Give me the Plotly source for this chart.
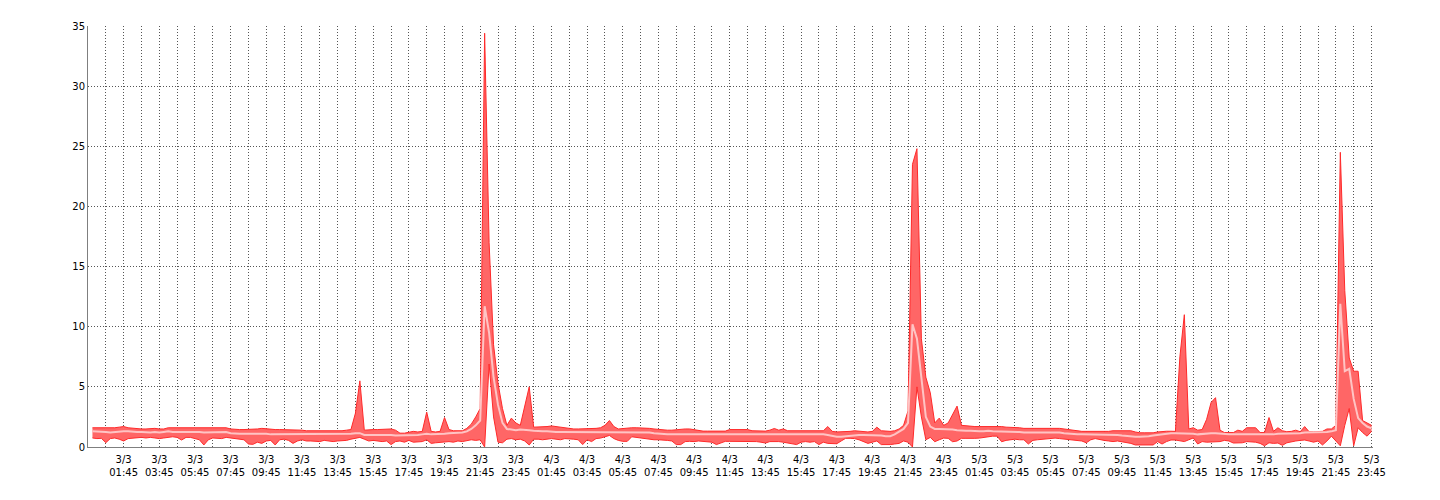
import pandas as pd
import plotly.graph_objects as go

# 15-minute samples, 3/3 00:00 .. 5/3 23:45 (values per hour listed as 4 quarter-hour values)
max_day1 = [
    1.60, 1.60, 1.60, 1.55,  1.55, 1.60, 1.65, 1.70,  1.60, 1.55, 1.55, 1.50,  1.50, 1.55, 1.55, 1.50,
    1.50, 1.60, 1.60, 1.55,  1.55, 1.55, 1.60, 1.60,  1.60, 1.60, 1.55, 1.55,  1.55, 1.55, 1.60, 1.50,
    1.45, 1.45, 1.45, 1.45,  1.45, 1.50, 1.55, 1.50,  1.45, 1.45, 1.45, 1.45,  1.40, 1.40, 1.40, 1.40,
    1.35, 1.35, 1.35, 1.30,  1.30, 1.30, 1.30, 1.30,  1.35, 1.40, 1.45, 2.80,  5.50, 1.40, 1.45, 1.45,
    1.45, 1.45, 1.50, 1.50,  1.40, 1.15, 1.15, 1.20,  1.30, 1.25, 1.30, 2.90,  1.30, 1.25, 1.30, 2.45,
    1.45, 1.35, 1.35, 1.35,  1.55, 1.90, 2.50, 3.20,  34.4, 17.0, 8.50, 5.30,  3.20, 1.80, 2.40, 2.00,
]
max_day2 = [
    1.80, 3.30, 5.00, 1.65,  1.65, 1.70, 1.70, 1.75,  1.70, 1.65, 1.55, 1.50,  1.50, 1.50, 1.50, 1.50,
    1.55, 1.55, 1.60, 1.80,  2.20, 1.70, 1.50, 1.55,  1.60, 1.60, 1.60, 1.60,  1.60, 1.55, 1.50, 1.45,
    1.40, 1.40, 1.40, 1.45,  1.50, 1.50, 1.50, 1.45,  1.35, 1.32, 1.32, 1.32,  1.32, 1.32, 1.32, 1.45,
    1.45, 1.45, 1.45, 1.45,  1.35, 1.32, 1.32, 1.32,  1.40, 1.54, 1.40, 1.50,  1.35, 1.35, 1.32, 1.32,
    1.32, 1.32, 1.32, 1.35,  1.35, 1.70, 1.30, 1.25,  1.25, 1.25, 1.30, 1.35,  1.30, 1.25, 1.25, 1.30,
    1.65, 1.35, 1.30, 1.30,  1.35, 1.50, 1.80, 3.00,  23.5, 24.8, 9.00, 5.80,  4.50, 2.00, 2.40, 1.80,
]
max_day3 = [
    2.00, 2.70, 3.40, 1.80,  1.75, 1.75, 1.70, 1.70,  1.70, 1.75, 1.75, 1.70,  1.70, 1.65, 1.65, 1.60,
    1.60, 1.55, 1.55, 1.60,  1.60, 1.60, 1.55, 1.55,  1.55, 1.55, 1.50, 1.45,  1.40, 1.30, 1.30, 1.30,
    1.30, 1.30, 1.27, 1.27,  1.30, 1.35, 1.35, 1.38,  1.40, 1.35, 1.25, 1.18,  1.18, 1.18, 1.18, 1.25,
    1.31, 1.31, 1.31, 1.30,  7.50, 11.0, 1.50, 1.60,  1.40, 1.45, 2.30, 3.70,  4.10, 1.40, 1.20, 1.20,
    1.20, 1.40, 1.30, 1.60,  1.60, 1.60, 1.20, 1.20,  2.45, 1.30, 1.60, 1.35,  1.27, 1.30, 1.40, 1.27,
    1.70, 1.27, 1.27, 1.30,  1.30, 1.50, 1.50, 1.80,  24.5, 13.0, 7.40, 6.30,  6.30, 2.20, 2.00, 1.80,
]

mean_day1 = [
    1.30, 1.30, 1.30, 1.25,  1.20, 1.25, 1.30, 1.30,  1.30, 1.25, 1.25, 1.25,  1.20, 1.20, 1.25, 1.20,
    1.25, 1.30, 1.25, 1.25,  1.25, 1.25, 1.30, 1.30,  1.25, 1.20, 1.20, 1.20,  1.20, 1.20, 1.25, 1.15,
    1.10, 1.10, 1.10, 1.10,  1.10, 1.15, 1.15, 1.10,  1.05, 1.05, 1.05, 1.10,  1.05, 1.05, 1.05, 1.05,
    1.05, 1.05, 1.05, 1.05,  1.05, 1.05, 1.10, 1.10,  1.10, 1.10, 1.10, 1.15,  1.15, 1.00, 1.00, 1.05,
    1.00, 1.00, 1.00, 1.00,  0.95, 0.95, 0.95, 0.95,  1.00, 1.00, 1.05, 1.10,  1.05, 1.05, 1.10, 1.10,
    1.15, 1.15, 1.20, 1.20,  1.30, 1.50, 1.80, 2.20,  11.7, 9.50, 5.80, 3.50,  2.00, 1.50, 1.45, 1.40,
]
mean_day2 = [
    1.45, 1.45, 1.40, 1.35,  1.30, 1.30, 1.30, 1.25,  1.25, 1.25, 1.25, 1.25,  1.25, 1.25, 1.25, 1.25,
    1.20, 1.20, 1.22, 1.25,  1.25, 1.25, 1.25, 1.25,  1.25, 1.25, 1.25, 1.25,  1.25, 1.20, 1.15, 1.10,
    1.05, 1.05, 1.05, 1.05,  1.05, 1.05, 1.05, 1.05,  1.00, 1.00, 1.00, 1.00,  1.00, 1.00, 1.00, 1.00,
    1.00, 1.00, 1.00, 1.00,  1.00, 1.00, 1.00, 1.00,  1.05, 1.07, 1.07, 1.07,  1.07, 1.07, 1.07, 1.07,
    1.07, 1.07, 1.07, 1.07,  1.05, 1.00, 0.90, 0.85,  0.85, 0.90, 0.95, 1.00,  1.00, 1.00, 1.00, 1.00,
    1.00, 0.95, 0.90, 0.90,  1.05, 1.30, 1.50, 2.00,  10.2, 9.00, 5.50, 2.50,  1.70, 1.50, 1.50, 1.50,
]
mean_day3 = [
    1.50, 1.45, 1.40, 1.35,  1.35, 1.35, 1.30, 1.30,  1.30, 1.35, 1.30, 1.30,  1.30, 1.25, 1.25, 1.25,
    1.25, 1.20, 1.20, 1.25,  1.25, 1.25, 1.20, 1.20,  1.20, 1.20, 1.15, 1.10,  1.10, 1.05, 1.05, 1.05,
    1.00, 1.00, 1.00, 1.00,  1.00, 1.00, 1.00, 0.95,  0.90, 0.85, 0.85, 0.85,  0.85, 0.90, 0.95, 1.00,
    1.10, 1.10, 1.15, 1.15,  1.15, 1.15, 1.10, 1.10,  1.05, 1.10, 1.10, 1.15,  1.15, 1.10, 1.05, 1.05,
    1.05, 1.05, 1.05, 1.05,  1.05, 1.05, 1.00, 1.00,  1.05, 1.05, 1.10, 1.10,  1.10, 1.10, 1.10, 1.15,
    1.20, 1.20, 1.25, 1.25,  1.25, 1.25, 1.30, 1.40,  11.9, 6.30, 6.50, 4.00,  2.40, 2.00, 1.70, 1.55,
]

min_day1 = [
    0.75, 0.70, 0.72, 0.36,  0.70, 0.75, 0.65, 0.50,  0.70, 0.75, 0.80, 0.80,  0.75, 0.80, 0.75, 0.70,
    0.75, 0.80, 0.85, 0.80,  0.58, 0.80, 0.80, 0.70,  0.60, 0.17, 0.60, 0.75,  0.75, 0.70, 0.80, 0.75,
    0.70, 0.60, 0.60, 0.25,  0.22, 0.40, 0.30, 0.50,  0.55, 0.17, 0.60, 0.65,  0.55, 0.30, 0.50, 0.60,
    0.50, 0.50, 0.45, 0.45,  0.55, 0.50, 0.45, 0.50,  0.50, 0.55, 0.65, 0.75,  0.80, 0.65, 0.50, 0.55,
    0.50, 0.45, 0.50, 0.20,  0.45, 0.50, 0.40, 0.55,  0.40, 0.45, 0.45, 0.60,  0.30, 0.35, 0.40, 0.45,
    0.45, 0.40, 0.50, 0.45,  0.55, 0.60, 0.55, 0.60,  0.00, 6.90, 2.50, 0.40,  0.35, 0.65, 0.70, 0.60,
]
min_day2 = [
    0.65, 0.50, 0.17, 0.65,  0.65, 0.60, 0.65, 0.70,  0.65, 0.60, 0.70, 0.70,  0.65, 0.60, 0.20, 0.60,
    0.45, 0.70, 0.74, 0.85,  0.96, 0.70, 0.55, 0.47,  0.47, 0.85, 0.80, 0.70,  0.65, 0.60, 0.60, 0.60,
    0.60, 0.55, 0.50, 0.20,  0.20, 0.45, 0.47, 0.45,  0.50, 0.47, 0.45, 0.40,  0.20, 0.35, 0.47, 0.47,
    0.47, 0.47, 0.50, 0.47,  0.47, 0.45, 0.40, 0.33,  0.45, 0.47, 0.45, 0.40,  0.35, 0.30, 0.20, 0.40,
    0.45, 0.40, 0.45, 0.20,  0.40, 0.30, 0.27, 0.27,  0.50, 0.72, 0.72, 0.70,  0.60, 0.44, 0.30, 0.40,
    0.50, 0.20, 0.17, 0.20,  0.25, 0.30, 0.50, 0.40,  0.00, 5.00, 2.50, 0.60,  0.80, 0.44, 0.60, 0.74,
]
min_day3 = [
    0.72, 0.44, 0.50, 0.72,  0.72, 0.75, 0.72, 0.74,  0.80, 0.85, 0.90, 0.90,  0.44, 0.55, 0.60, 0.65,
    0.60, 0.60, 0.25, 0.55,  0.60, 0.65, 0.70, 0.74,  0.74, 0.70, 0.65, 0.60,  0.60, 0.55, 0.50, 0.35,
    0.60, 0.70, 0.60, 0.55,  0.50, 0.45, 0.50, 0.45,  0.40, 0.30, 0.17, 0.17,  0.17, 0.17, 0.17, 0.45,
    0.25, 0.45, 0.58, 0.58,  0.50, 0.45, 0.60, 0.75,  0.25, 0.45, 0.40, 0.40,  0.40, 0.45, 0.55, 0.50,
    0.33, 0.33, 0.35, 0.45,  0.45, 0.40, 0.30, 0.10,  0.35, 0.30, 0.33, 0.14,  0.35, 0.45, 0.50, 0.55,
    0.58, 0.50, 0.40, 0.50,  0.17, 0.50, 0.90, 0.50,  0.10, 1.80, 3.20, 0.10,  1.60, 1.20, 0.90, 1.30,
]

tick_days = ["3/3"] * 12 + ["4/3"] * 12 + ["5/3"] * 12
tick_times = ["01:45", "03:45", "05:45", "07:45", "09:45", "11:45",
              "13:45", "15:45", "17:45", "19:45", "21:45", "23:45"] * 3
tick_labels = [f"{d}<br>{t}" for d, t in zip(tick_days, tick_times)]

y_ticks = [0, 5, 10, 15, 20, 25, 30, 35]

max_vals = max_day1 + max_day2 + max_day3
mean_vals = mean_day1 + mean_day2 + mean_day3
min_vals = min_day1 + min_day2 + min_day3

times = pd.date_range("2024-03-03 00:00", periods=len(max_vals), freq="15min")
tick_pos = pd.date_range("2024-03-03 01:45", periods=len(tick_labels), freq="2h")

EDGE = "#ff2a2a"
FILL = "#ff6666"
MEAN = "#ffc4c4"

fig = go.Figure()
fig.add_trace(go.Scatter(x=times, y=min_vals, mode="lines",
                         line=dict(color=EDGE, width=1), hoverinfo="skip"))
fig.add_trace(go.Scatter(x=times, y=max_vals, mode="lines", fill="tonexty",
                         fillcolor=FILL, line=dict(color=EDGE, width=1), hoverinfo="skip"))
fig.add_trace(go.Scatter(x=times, y=mean_vals, mode="lines",
                         line=dict(color=MEAN, width=2), hoverinfo="skip"))

GRID = "#555555"
fig.update_layout(
    width=1432, height=492,
    margin=dict(l=80, r=67, t=15, b=53),
    paper_bgcolor="white", plot_bgcolor="white",
    showlegend=False,
    font=dict(family="DejaVu Sans", size=10, color="#000000"),
    xaxis=dict(
        type="date",
        range=["2024-03-02 23:45", "2024-03-05 23:50"],
        tickmode="array", tickvals=tick_pos, ticktext=tick_labels,
        showgrid=True, gridcolor=GRID, griddash="1px,2px", gridwidth=1,
        minor=dict(dtick=3600000, tick0="2024-03-02 23:45", showgrid=True,
                   gridcolor=GRID, griddash="1px,2px", gridwidth=1),
        showline=True, linecolor="#7f7f7f", linewidth=1,
        ticks="", zeroline=False, tickfont=dict(size=10),
        ticklabelstandoff=3,
    ),
    yaxis=dict(
        range=[0, 35], tickmode="array", tickvals=y_ticks,
        showgrid=True, gridcolor=GRID, griddash="1px,2px", gridwidth=1,
        showline=True, linecolor="#7f7f7f", linewidth=1,
        ticks="", zeroline=False, tickfont=dict(size=10),
    ),
)

fig.write_html("out.html")
